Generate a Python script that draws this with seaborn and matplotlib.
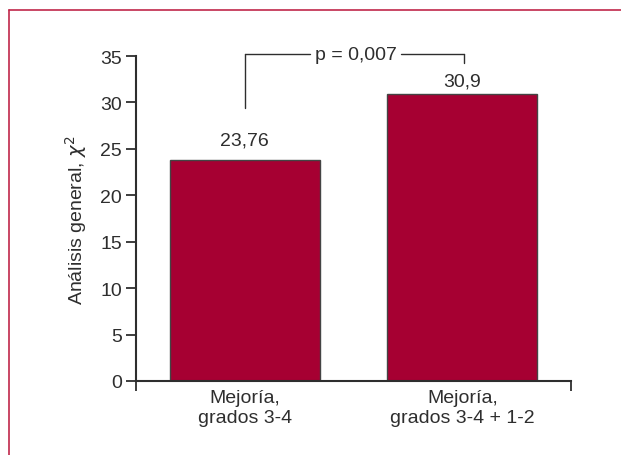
import matplotlib
matplotlib.use("Agg")
import matplotlib.pyplot as plt
from matplotlib.lines import Line2D
import seaborn as sns
import pandas as pd

categories = ["Mejoría,\ngrados 3-4", "Mejoría,\ngrados 3-4 + 1-2"]
values = [23.76, 30.9]
value_labels = ["23,76", "30,9"]
yticks = [0, 5, 10, 15, 20, 25, 30, 35]
p_text = "p = 0,007"

sns.set_theme(style="white")
plt.rcParams["font.family"] = ["Liberation Sans Narrow", "Liberation Sans", "DejaVu Sans"]

ink = "#2e2e2e"
bar_color = "#a60032"

df = pd.DataFrame({"grupo": categories, "chi2": values})

fig = plt.figure(figsize=(6.21, 4.56), dpi=100)
ax = fig.add_axes([0.219, 0.1623, 0.7005, 0.7127])

sns.barplot(data=df, x="grupo", y="chi2", color=bar_color, width=0.69,
            edgecolor="#444444", linewidth=1.0, saturation=1, ax=ax)

ax.set_xlim(-0.5, 1.5)
ax.set_ylim(0, 35)
ax.set_yticks(yticks)
ax.set_yticklabels([str(t) for t in yticks], fontsize=14, color=ink)
ax.set_xlabel("")
ax.set_ylabel("Análisis general, $\\chi^2$", fontsize=14, color=ink, labelpad=8)
ax.tick_params(axis="x", length=0, pad=6, labelsize=14, labelcolor=ink)
ax.tick_params(axis="y", length=7, width=1.3, color=ink, pad=3, left=True)
for lbl in ax.get_xticklabels():
    lbl.set_linespacing(1.2)
ax.set_xticks([-0.5, 1.5], minor=True)
ax.tick_params(axis="x", which="minor", length=7, width=1.3, color=ink, bottom=True)

for side in ("top", "right"):
    ax.spines[side].set_visible(False)
for side in ("left", "bottom"):
    ax.spines[side].set_color(ink)
    ax.spines[side].set_linewidth(1.5)

# value labels above each bar
offsets = [1.3, 0.5]
for i, (v, txt) in enumerate(zip(values, value_labels)):
    ax.text(i, v + offsets[i], txt, ha="center", va="bottom", fontsize=14, color=ink)

# significance bracket between the two bars
top = 35.2
ax.plot([0, 0], [29.4, top], color=ink, lw=1.0, clip_on=False)
ax.plot([0, 0.30], [top, top], color=ink, lw=1.0, clip_on=False)
ax.plot([0.72, 1.01], [top, top], color=ink, lw=1.0, clip_on=False)
ax.plot([1.01, 1.01], [top, 34.2], color=ink, lw=1.0, clip_on=False)
ax.text(0.51, top, p_text, ha="center", va="center", fontsize=14, color=ink)

# frame around the figure (top and left edges)
frame = "#c0284a"
fig.add_artist(Line2D([9 / 621, 1.0], [1 - 11 / 456, 1 - 11 / 456], color=frame, lw=1.2))
fig.add_artist(Line2D([9 / 621, 9 / 621], [0.0, 1 - 11 / 456], color=frame, lw=1.2))

fig.savefig("out.png", dpi=100)
